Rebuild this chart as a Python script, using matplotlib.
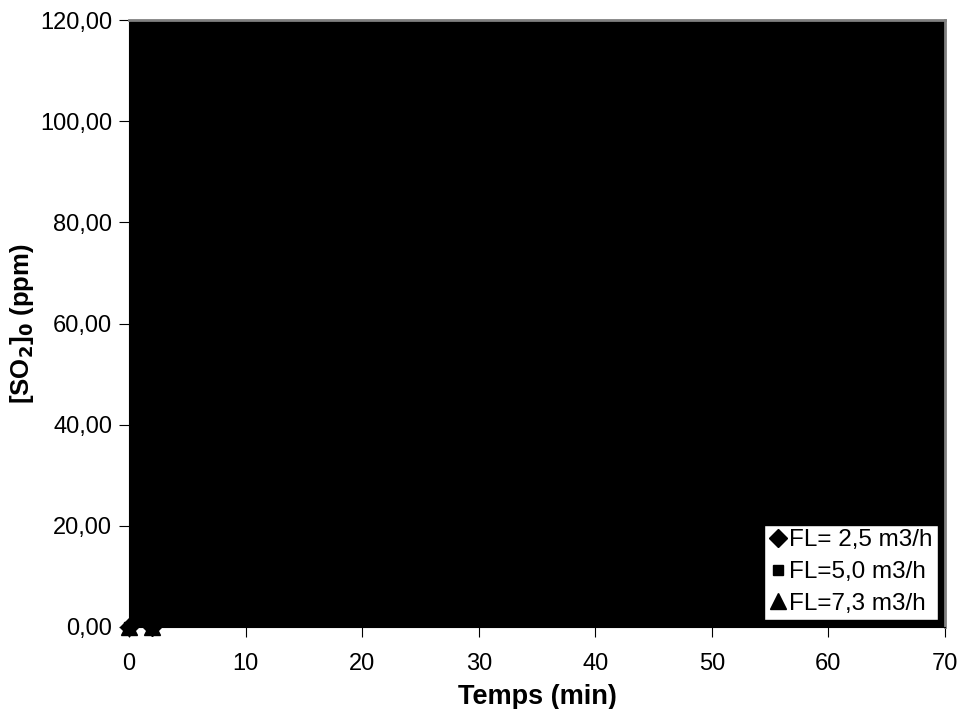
import matplotlib.pyplot as plt
import numpy as np

plt.rcParams['font.family'] = ['Liberation Sans', 'DejaVu Sans']

# data (time in min, [SO2]0 in ppm)
t_25 = [0, 2]
so2_25 = [0, 0]
t_50 = [0, 2]
so2_50 = [0, 0]
t_73 = [0, 2]
so2_73 = [0, 0]

y_ticks = [0, 20, 40, 60, 80, 100, 120]
x_ticks = [0, 10, 20, 30, 40, 50, 60, 70]

fig = plt.figure(figsize=(9.62, 7.09), dpi=100)
ax = fig.add_axes([129 / 962, 1 - 627 / 709, (945 - 129) / 962, (627 - 20) / 709])
ax.set_facecolor('black')

ax.plot(t_25, so2_25, linestyle='none', marker='D', color='black', markersize=9,
        label='FL= 2,5 m3/h', clip_on=False, zorder=5)
ax.plot(t_50, so2_50, linestyle='none', marker='s', color='black', markersize=7,
        label='FL=5,0 m3/h', clip_on=False, zorder=5)
ax.plot(t_73, so2_73, linestyle='none', marker='^', color='black', markersize=12,
        label='FL=7,3 m3/h', clip_on=False, zorder=5)

ax.set_xlim(0, 70)
ax.set_ylim(0, 120)
ax.set_xticks(x_ticks)
ax.set_yticks(y_ticks)
ax.set_yticklabels([f'{v:.2f}'.replace('.', ',') for v in y_ticks])
ax.tick_params(axis='both', labelsize=17, direction='out', length=7, color='black')
ax.tick_params(axis='x', pad=12)
ax.tick_params(axis='y', pad=5)

for side in ['top', 'right']:
    ax.spines[side].set_color('#808080')
    ax.spines[side].set_linewidth(2)
ax.spines['left'].set_color('black')
ax.spines['bottom'].set_color('black')

ax.set_xlabel('Temps (min)', fontsize=19.5, fontweight='bold', labelpad=6)
ax.set_ylabel('[SO$_\\mathbf{2}$]$_\\mathbf{0}$ (ppm)', fontsize=18.5, fontweight='bold', labelpad=3)

leg = ax.legend(loc='lower right', fontsize=17.5, frameon=True, fancybox=False,
                handletextpad=0.05, handlelength=0.8, borderpad=0.2,
                labelspacing=0.4, borderaxespad=0.3, handleheight=0.7)
leg.get_frame().set_facecolor('white')
leg.get_frame().set_edgecolor('black')
leg.get_frame().set_alpha(1)

fig.savefig('out.png', dpi=100)
